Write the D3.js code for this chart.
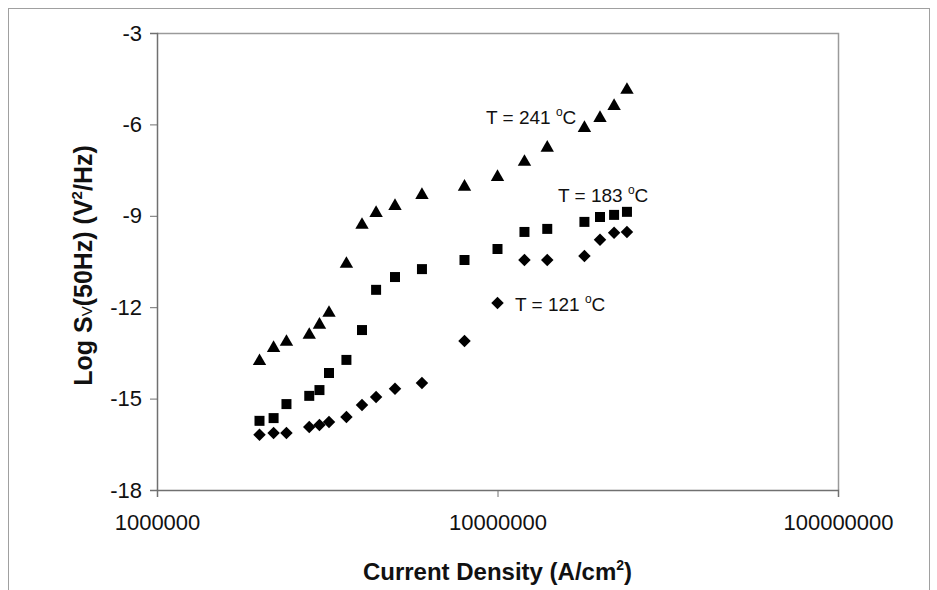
<!DOCTYPE html>
<html>
<head>
<meta charset="utf-8">
<script src="https://cdn.jsdelivr.net/npm/d3@7"></script>
<style>
  body { margin: 0; background: #fff; }
  svg { font-family: "Liberation Sans", Arial, sans-serif; }
</style>
</head>
<body>
<div id="chart"></div>
<script>
const width = 937;
const height = 590;

// current density (A/cm2)
const xValues = [2.0e6, 2.2e6, 2.4e6, 2.8e6, 3.0e6, 3.2e6, 3.6e6, 4.0e6, 4.4e6, 5.0e6,
    6.0e6, 8.0e6, 1.0e7, 1.2e7, 1.4e7, 1.8e7, 2.0e7, 2.2e7, 2.4e7];
// log Sv(50Hz) per temperature
const t241 = [-13.77, -13.34, -13.14, -12.91, -12.58, -12.19, -10.58, -9.30, -8.91, -8.68,
    -8.32, -8.05, -7.73, -7.23, -6.77, -6.12, -5.79, -5.40, -4.87];
const t183 = [-15.73, -15.64, -15.18, -14.91, -14.72, -14.16, -13.73, -12.75, -11.43, -11.01,
    -10.75, -10.45, -10.09, -9.53, -9.43, -9.20, -9.04, -8.97, -8.87];
const t121 = [-16.19, -16.13, -16.13, -15.93, -15.87, -15.77, -15.60, -15.21, -14.95, -14.68,
    -14.49, -13.11, -11.86, -10.45, -10.45, -10.32, -9.79, -9.56, -9.53];
const yTicks = [-3, -6, -9, -12, -15, -18];
const xTicks = [1e6, 1e7, 1e8];

const margin = { left: 157, right: 99, top: 33, bottom: 100 };

const x = d3.scaleLog().domain([1e6, 1e8]).range([margin.left, width - margin.right]);
const y = d3.scaleLinear().domain([-18, -3]).range([height - margin.bottom, margin.top]);

const svg = d3.select("div#chart").append("svg")
    .attr("width", width)
    .attr("height", height);

svg.append("rect")
    .attr("x", 8.5).attr("y", 8.5)
    .attr("width", 921).attr("height", 620)
    .attr("fill", "#fff")
    .attr("stroke", "#a0a0a0");

// plot frame (top and right)
svg.append("path")
    .attr("d", `M${x(1e6)},${y(-3) + 0.5}H${x(1e8) + 0.5}V${y(-18)}`)
    .attr("fill", "none")
    .attr("stroke", "#9a9a9a")
    .attr("stroke-width", 1.5);

const yAxis = svg.append("g")
    .attr("transform", `translate(${x(1e6)},0)`)
    .call(d3.axisLeft(y).tickValues(yTicks).tickSize(7).tickPadding(8).tickFormat(d => String(d)));
yAxis.select(".domain").attr("stroke", "#707070").attr("stroke-width", 1.5);
yAxis.selectAll(".tick line").attr("stroke", "#707070");
yAxis.selectAll(".tick text").attr("font-size", 22).attr("fill", "#111")
    .attr("font-family", "Liberation Sans, Arial, sans-serif");

const xAxis = svg.append("g")
    .attr("transform", `translate(0,${y(-18)})`)
    .call(d3.axisBottom(x).tickValues(xTicks).tickSize(7).tickPadding(17).tickFormat(d3.format("d")));
xAxis.select(".domain").attr("stroke", "#707070").attr("stroke-width", 1.5);
xAxis.selectAll(".tick line").attr("stroke", "#707070");
xAxis.selectAll(".tick text").attr("font-size", 22).attr("fill", "#111")
    .attr("font-family", "Liberation Sans, Arial, sans-serif");

// markers
const diamond = { draw(ctx, size) { const r = Math.sqrt(size) / Math.SQRT2; ctx.moveTo(0, -r); ctx.lineTo(r, 0); ctx.lineTo(0, r); ctx.lineTo(-r, 0); ctx.closePath(); } };
const series = [
    { values: t241, symbol: d3.symbol(d3.symbolTriangle, 78) },
    { values: t183, symbol: d3.symbol(d3.symbolSquare, 100) },
    { values: t121, symbol: d3.symbol(diamond, 78) }
];
series.forEach(s => {
    svg.append("g").selectAll("path")
        .data(xValues.map((v, i) => [v, s.values[i]]))
        .join("path")
        .attr("d", s.symbol)
        .attr("transform", d => `translate(${x(d[0])},${y(d[1])})`)
        .attr("fill", "#000");
});

// series labels
const labels = [
    { text: "T = 241 ", x: 486, y: 124 },
    { text: "T = 183 ", x: 558, y: 202 },
    { text: "T = 121 ", x: 515, y: 311 }
];
labels.forEach(l => {
    const t = svg.append("text")
        .attr("x", l.x).attr("y", l.y)
        .attr("font-size", 19)
        .attr("fill", "#111");
    t.append("tspan").text(l.text);
    t.append("tspan").text("o").attr("font-size", 12).attr("dy", -8);
    t.append("tspan").text("C").attr("dy", 8);
});

// axis titles
const xt = svg.append("text")
    .attr("x", x(1e7)).attr("y", 580)
    .attr("text-anchor", "middle")
    .attr("font-size", 24).attr("font-weight", "bold")
    .attr("fill", "#111");
xt.append("tspan").text("Current Density (A/cm");
xt.append("tspan").text("2").attr("font-size", 14).attr("dy", -10);
xt.append("tspan").text(")").attr("dy", 10);

const yt = svg.append("text")
    .attr("transform", `translate(92,${(y(-3) + y(-18)) / 2 + 4}) rotate(-90)`)
    .attr("text-anchor", "middle")
    .attr("font-size", 25).attr("font-weight", "bold")
    .attr("fill", "#111");
yt.append("tspan").text("Log S");
yt.append("tspan").text("V").attr("font-size", 15).attr("font-weight", "normal");
yt.append("tspan").text("(50Hz) (V");
yt.append("tspan").text("2").attr("font-size", 15).attr("dy", -10);
yt.append("tspan").text("/Hz)").attr("dy", 10);
</script>
</body>
</html>
